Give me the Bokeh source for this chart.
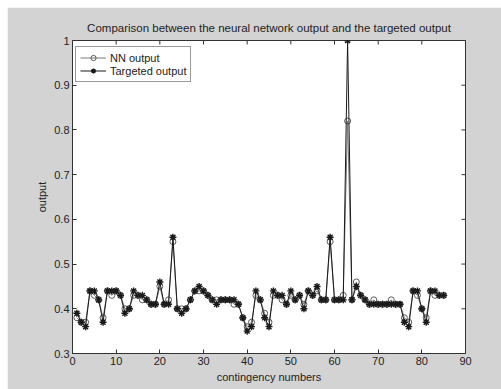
import math
from bokeh.plotting import figure
from bokeh.models import FixedTicker, Range1d
from bokeh.embed import file_html
from bokeh.resources import INLINE

contingency = list(range(1, 86))

targeted = [0.39, 0.37, 0.36, 0.44, 0.44, 0.42, 0.37, 0.44, 0.44, 0.44,
            0.43, 0.39, 0.40, 0.44, 0.43, 0.43, 0.42, 0.41, 0.41, 0.46,
            0.41, 0.41, 0.56, 0.40, 0.39, 0.40, 0.42, 0.44, 0.45, 0.44,
            0.43, 0.42, 0.41, 0.42, 0.42, 0.42, 0.42, 0.41, 0.38, 0.35,
            0.36, 0.44, 0.42, 0.38, 0.36, 0.44, 0.43, 0.43, 0.41, 0.44,
            0.42, 0.43, 0.40, 0.44, 0.43, 0.45, 0.42, 0.42, 0.56, 0.42,
            0.42, 0.42, 1.00, 0.42, 0.45, 0.43, 0.42, 0.41, 0.41, 0.41,
            0.41, 0.41, 0.41, 0.41, 0.41, 0.37, 0.36, 0.44, 0.44, 0.40,
            0.37, 0.44, 0.44, 0.43, 0.43]

nn_output = [0.38, 0.37, 0.37, 0.44, 0.43, 0.42, 0.38, 0.44, 0.43, 0.44,
             0.43, 0.40, 0.40, 0.43, 0.43, 0.42, 0.42, 0.41, 0.41, 0.45,
             0.41, 0.42, 0.55, 0.40, 0.40, 0.40, 0.42, 0.44, 0.44, 0.44,
             0.43, 0.42, 0.42, 0.42, 0.42, 0.42, 0.41, 0.41, 0.38, 0.36,
             0.37, 0.43, 0.42, 0.39, 0.37, 0.43, 0.43, 0.42, 0.41, 0.43,
             0.42, 0.43, 0.41, 0.44, 0.43, 0.44, 0.42, 0.42, 0.55, 0.42,
             0.42, 0.43, 0.82, 0.42, 0.46, 0.43, 0.42, 0.41, 0.42, 0.41,
             0.41, 0.41, 0.42, 0.41, 0.41, 0.38, 0.37, 0.44, 0.43, 0.40,
             0.38, 0.44, 0.43, 0.43, 0.43]

x_ticks = [0, 10, 20, 30, 40, 50, 60, 70, 80, 90]
y_ticks = [0.3, 0.4, 0.5, 0.6, 0.7, 0.8, 0.9, 1.0]
X_MIN, X_MAX = 0, 90
Y_MIN, Y_MAX = 0.3, 1.0

FONT = "Liberation Sans"
AX = "#333333"
TXT = "#222222"

p = figure(width=494, height=382, margin=(7, 0, 0, 7),
           output_backend="svg", toolbar_location=None,
           x_range=Range1d(X_MIN, X_MAX), y_range=Range1d(Y_MIN, Y_MAX),
           min_border_left=65, min_border_right=36, min_border_top=33,
           min_border_bottom=36)

p.border_fill_color = "#d3d3d3"
p.background_fill_color = "white"
p.outline_line_color = AX
p.grid.visible = False

p.title.text = "Comparison between the neural network output and the targeted output"
p.title.align = "center"
p.title.text_font = FONT
p.title.text_font_size = "11.5px"
p.title.text_font_style = "normal"
p.title.text_color = TXT
p.title.offset = 0
p.title.standoff = 13

for ax in (p.xaxis[0], p.yaxis[0]):
    ax.major_tick_in = 4
    ax.major_tick_out = 0
    ax.minor_tick_in = 0
    ax.minor_tick_out = 0
    ax.axis_line_color = AX
    ax.major_tick_line_color = AX
    ax.major_label_text_font = FONT
    ax.major_label_text_font_size = "11px"
    ax.major_label_text_color = TXT
    ax.axis_label_text_font = FONT
    ax.axis_label_text_font_size = "11px"
    ax.axis_label_text_font_style = "normal"
    ax.axis_label_text_color = TXT
    ax.major_label_standoff = 3
    ax.axis_label_standoff = 3

p.xaxis[0].ticker = FixedTicker(ticks=x_ticks)
p.yaxis[0].ticker = FixedTicker(ticks=y_ticks)
p.yaxis[0].major_label_overrides = {1: "1"}
p.xaxis[0].axis_label = "contingency numbers"
p.yaxis[0].axis_label = "output"

# mirrored inward ticks on the top and right edges of the box
p.scatter(x_ticks, [Y_MAX] * len(x_ticks), marker="dash", angle=math.pi / 2,
          size=8, line_color=AX, line_width=1)
p.scatter([X_MAX] * len(y_ticks), y_ticks, marker="dash",
          size=8, line_color=AX, line_width=1)

p.line(contingency, nn_output, line_color="#7a7a7a", line_width=1, legend_label="NN output")
p.scatter(contingency, nn_output, marker="circle", size=6, fill_color=None,
          line_color="#5a5a5a", line_width=1, legend_label="NN output")
p.line(contingency, targeted, line_color="#1a1a1a", line_width=1, legend_label="Targeted output")
p.scatter(contingency, targeted, marker="asterisk", size=7, line_color="#1a1a1a",
          line_width=1.4, legend_label="Targeted output")

lg = p.legend[0]
lg.location = (3, 271)
lg.margin = 0
lg.padding = 4
lg.spacing = 0
lg.glyph_width = 26
lg.glyph_height = 13
lg.label_height = 13
lg.label_standoff = 4
lg.label_text_font = FONT
lg.label_text_font_size = "11px"
lg.label_text_color = TXT
lg.border_line_color = AX
lg.background_fill_color = "white"
lg.background_fill_alpha = 1.0

open("out.html", "w").write(file_html(p, INLINE))
